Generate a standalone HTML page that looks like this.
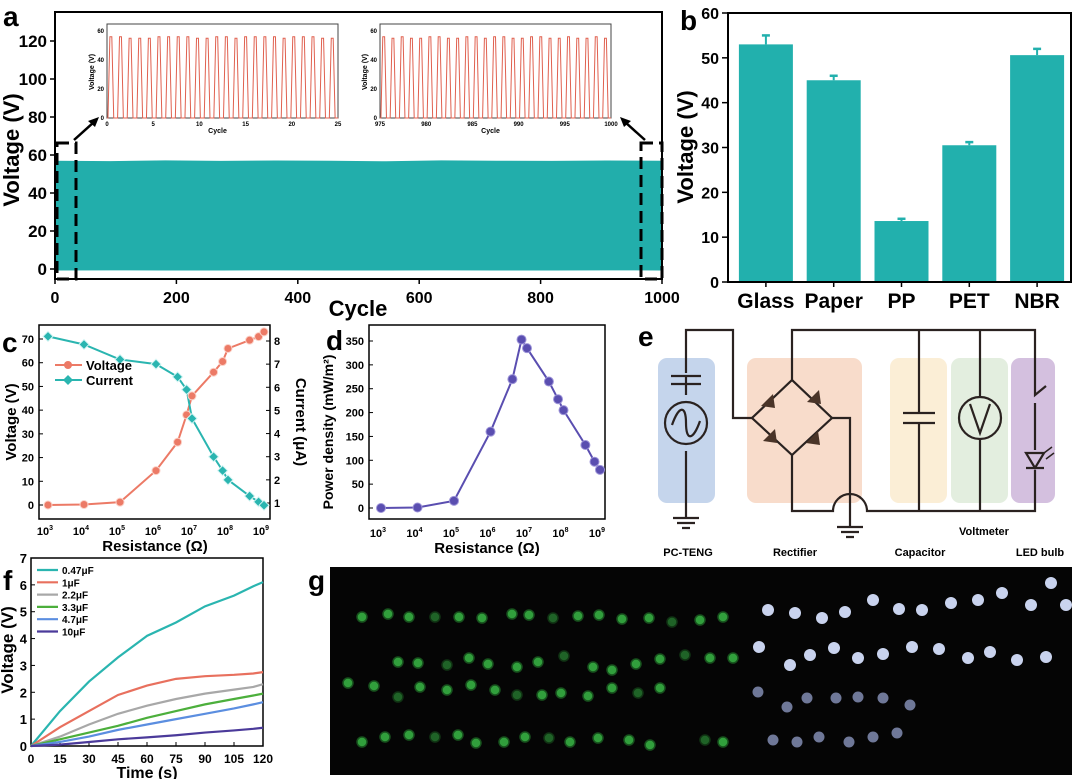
<!DOCTYPE html>
<html><head><meta charset="utf-8">
<style>
html,body{margin:0;padding:0;background:#fff;}
svg{display:block;font-family:"Liberation Sans",Arial,sans-serif;}
.t{font-weight:bold;fill:#000;}
</style></head>
<body>
<svg id="fig" width="1080" height="779" viewBox="0 0 1080 779" xmlns="http://www.w3.org/2000/svg"></svg>
<script>
// ===== Panel a data =====
const aTicksX=[0,200,400,600,800,1000];
const aTicksY=[0,20,40,60,80,100,120];
const aEnvTop=[57,56.8,57.2,56.9,57.1,57,56.7,57.2,57,56.9,57.1,57];
const aEnvBot=[-0.8,-0.7,-0.8,-0.8,-0.7,-0.8,-0.8,-0.7,-0.8,-0.8,-0.7,-0.8];
const inset1Peaks=[56,56,55,55,55,56,56,56,56,55,55,56,56,55,56,56,56,56,55,56,56,56,55,55];
const inset2Peaks=[56,55,56,55,55,56,56,55,55,56,56,55,56,56,55,55,56,56,55,55,56,55,55,56,55];
// ===== Panel b data =====
const bCats=["Glass","Paper","PP","PET","NBR"];
const bVals=[53,45,13.6,30.5,50.6];
const bErr=[2,1,0.5,0.7,1.4];
const bTicks=[0,10,20,30,40,50,60];
// ===== Panel c/d data =====
const rExp=[3,4,5,6,6.6,6.85,7,7.6,7.85,8,8.6,8.85,9];
const cVoltage=[0,0.2,1.2,14.5,26.5,38,46,56,60.5,66,69.5,71,73];
const cCurrent=[8.2,7.85,7.2,7.0,6.45,5.9,4.65,3.0,2.4,2.0,1.3,1.05,0.9];
const cTicksV=[0,10,20,30,40,50,60,70];
const cTicksI=[1,2,3,4,5,6,7,8];
const dPower=[0,1,15,160,270,353,335,265,228,205,132,97,80];
const dTicks=[0,50,100,150,200,250,300,350];
const rTicks=[3,4,5,6,7,8,9];
// ===== Panel f data =====
const fTime=[0,15,30,45,60,75,90,105,115,120];
const fNames=["0.47μF","1μF","2.2μF","3.3μF","4.7μF","10μF"];
const fColors=["#2ab5b0","#e8705e","#a8a8a8","#4caf3c","#5b8ee0","#4b3a9a"];
const f047=[0,1.3,2.4,3.3,4.1,4.6,5.2,5.6,5.95,6.1];
const f1=[0,0.7,1.3,1.9,2.25,2.5,2.6,2.65,2.7,2.75];
const f22=[0,0.35,0.8,1.2,1.5,1.75,1.95,2.1,2.2,2.3];
const f33=[0,0.25,0.5,0.75,1.05,1.3,1.55,1.75,1.88,1.95];
const f47=[0,0.15,0.35,0.6,0.8,1.0,1.2,1.4,1.55,1.63];
const f10=[0,0.05,0.15,0.25,0.32,0.4,0.5,0.58,0.64,0.68];
const fTicksX=[0,15,30,45,60,75,90,105,120];
const fTicksY=[0,1,2,3,4,5,6,7];

const NS="http://www.w3.org/2000/svg";
const svg=document.getElementById('fig');
function E(tag,attrs,parent,text){const e=document.createElementNS(NS,tag);for(const k in attrs)e.setAttribute(k,attrs[k]);if(text!==undefined)e.textContent=text;(parent||svg).appendChild(e);return e;}
function G(name){const g=E('g',{});return g;}
function lin(d0,d1,r0,r1){return v=>r0+(v-d0)*(r1-r0)/(d1-d0);}
function txt(g,x,y,s,size,anchor,name,extra){const t=E('text',Object.assign({x:x,y:y,'font-size':size,'text-anchor':anchor||'middle',class:'t'},extra||{}),g,s);return t;}
function label(s,x,y){txt(svg,x,y,s,28,'start','panel-label-'+s);}

// ---------- Panel a ----------
(function(){
 const g=G('panel-a');
 const X=lin(0,1000,55,662), Y=lin(0,120,269,41);
 let pts=[];
 aEnvTop.forEach((v,i)=>pts.push(X(i*1000/(aEnvTop.length-1))+','+Y(v)));
 for(let i=aEnvBot.length-1;i>=0;i--)pts.push(X(i*1000/(aEnvBot.length-1))+','+Y(aEnvBot[i]));
 const band=E('polygon',{points:pts.join(' '),fill:'#22aeab'},g);
 
 const ax=E('rect',{x:55,y:12,width:607,height:267,fill:'none',stroke:'#000','stroke-width':2},g);
 
 aTicksY.forEach(v=>{E('line',{x1:50,x2:55,y1:Y(v),y2:Y(v),stroke:'#000','stroke-width':1.5},g);txt(g,47,Y(v)+6,v,17,'end','y-tick-label');});
 aTicksX.forEach(v=>{E('line',{x1:X(v),x2:X(v),y1:279,y2:284,stroke:'#000','stroke-width':1.5},g);txt(g,X(v),303,v,16,'middle','x-tick-label');});
 txt(g,358,316,'Cycle',22,'middle','x-axis-title');
 txt(g,0,0,'Voltage (V)',22,'middle','y-axis-title',{transform:'translate(19,150) rotate(-90)'});
 E('rect',{x:57,y:143,width:19,height:136,fill:'none',stroke:'#000','stroke-width':3,'stroke-dasharray':'12,6'},g);
 E('rect',{x:641,y:143,width:21,height:136,fill:'none',stroke:'#000','stroke-width':3,'stroke-dasharray':'12,6'},g);
 E('line',{x1:74,y1:140,x2:94,y2:122,stroke:'#000','stroke-width':2.5},g);
 E('polygon',{points:'99,117 88,121 95,127',fill:'#000'},g);
 E('line',{x1:645,y1:140,x2:625,y2:122,stroke:'#000','stroke-width':2.5},g);
 E('polygon',{points:'620,117 631,121 624,127',fill:'#000'},g);
 function inset(x0,x1,peaks,d0,d1,ticks,name){
  const ig=G(name);
  const IX=lin(d0,d1,x0,x1), IY=lin(0,60,118,31);
  E('rect',{x:x0,y:24,width:x1-x0,height:94,fill:'#fff',stroke:'#444','stroke-width':1},ig);
  const per=(d1-d0)/peaks.length; let d='M'+x0+','+IY(0);
  peaks.forEach((p,i)=>{const c0=d0+i*per;
   d+=' L'+IX(c0+per*0.1)+','+IY(0)+' L'+IX(c0+per*0.3)+','+IY(p)+' L'+IX(c0+per*0.5)+','+IY(p)+' L'+IX(c0+per*0.7)+','+IY(0)+' L'+IX(c0+per)+','+IY(0);});
  const path=E('path',{d:d,fill:'none',stroke:'#e0604f','stroke-width':1},ig);
  
  [0,20,40,60].forEach(v=>txt(ig,x0-3,IY(v)+2,v,6,'end','inset-y-tick',{'font-weight':'normal'}));
  ticks.forEach(v=>txt(ig,IX(v),126,v,6,'middle','inset-x-tick',{'font-weight':'normal'}));
  txt(ig,(x0+x1)/2-5,133,'Cycle',7,'middle','inset-x-title');
  txt(ig,0,0,'Voltage (V)',7,'middle','inset-y-title',{transform:`translate(${x0-13},72) rotate(-90)`});
 }
 inset(107,338,inset1Peaks,0,25,[0,5,10,15,20,25],'inset-first-cycles');
 inset(380,611,inset2Peaks,975,1000,[975,980,985,990,995,1000],'inset-last-cycles');
})();
label('a',3,26);

// ---------- Panel b ----------
(function(){
 const g=G('panel-b');
 const Y=lin(0,60,282,13); const band=(1071-732)/bCats.length;
 bCats.forEach((c,i)=>{const cx=732+band*(i+0.5);
  const r=E('rect',{x:cx-27,y:Y(bVals[i]),width:54,height:282-Y(bVals[i]),fill:'#22b0ad'},g);
  
  E('line',{x1:cx,x2:cx,y1:Y(bVals[i]),y2:Y(bVals[i]+bErr[i]),stroke:'#22b0ad','stroke-width':2},g);
  E('line',{x1:cx-4,x2:cx+4,y1:Y(bVals[i]+bErr[i]),y2:Y(bVals[i]+bErr[i]),stroke:'#22b0ad','stroke-width':2.5},g);
  E('line',{x1:cx,x2:cx,y1:282,y2:287,stroke:'#000','stroke-width':1.5},g);
  txt(g,cx,308,c,21,'middle','x-category-label');});
 E('rect',{x:728,y:13,width:343,height:269,fill:'none',stroke:'#000','stroke-width':2},g);
 bTicks.forEach(v=>{E('line',{x1:722,x2:728,y1:Y(v),y2:Y(v),stroke:'#000','stroke-width':1.5},g);txt(g,719,Y(v)+6,v,16,'end','y-tick-label');});
 txt(g,0,0,'Voltage (V)',22,'middle','y-axis-title',{transform:'translate(693,147) rotate(-90)'});
})();
label('b',680,30);

// ---------- Panel c ----------
(function(){
 const g=G('panel-c');
 const X=lin(3,9,48,264), YV=lin(0,70,505,339), YI=lin(1,8,503,341);
 E('rect',{x:39,y:325,width:231,height:194,fill:'none',stroke:'#000','stroke-width':1.5},g);
 cTicksV.forEach(v=>{E('line',{x1:39,x2:43,y1:YV(v),y2:YV(v),stroke:'#000'},g);txt(g,34,YV(v)+4,v,11,'end','y-left-tick');});
 cTicksI.forEach(v=>{E('line',{x1:266,x2:270,y1:YI(v),y2:YI(v),stroke:'#000'},g);txt(g,274,YI(v)+4,v,11,'start','y-right-tick');});
 rTicks.forEach(v=>{const t=txt(g,X(v)-3,535,'10',11,'middle','x-tick-label');E('tspan',{dy:-5,'font-size':7},t,v);});
 txt(g,155,551,'Resistance (Ω)',15,'middle','x-axis-title');
 txt(g,0,0,'Voltage (V)',15,'middle','y-left-title',{transform:'translate(16,422) rotate(-90)'});
 txt(g,0,0,'Current (μA)',15,'middle','y-right-title',{transform:'translate(296,422) rotate(90)'});
 const lv=E('polyline',{points:rExp.map((r,i)=>X(r)+','+YV(cVoltage[i])).join(' '),fill:'none',stroke:'#ec7a66','stroke-width':2},g);
 
 const li=E('polyline',{points:rExp.map((r,i)=>X(r)+','+YI(cCurrent[i])).join(' '),fill:'none',stroke:'#2ab5b0','stroke-width':2},g);
 
 rExp.forEach((r,i)=>{const c=E('circle',{cx:X(r),cy:YV(cVoltage[i]),r:4,fill:'#ec7a66',stroke:'#fbd2c8','stroke-width':1},g);
  
  const x=X(r),y=YI(cCurrent[i]);const d=E('polygon',{points:`${x},${y-5} ${x+5},${y} ${x},${y+5} ${x-5},${y}`,fill:'#2ab5b0',stroke:'#d6f5f4','stroke-width':1},g);
  });
 const lg=G('legend-c');
 E('line',{x1:55,x2:82,y1:365,y2:365,stroke:'#ec7a66','stroke-width':2},lg);E('circle',{cx:68,cy:365,r:4,fill:'#ec7a66'},lg);
 txt(lg,86,370,'Voltage',13,'start','legend-entry',{'font-weight':'normal'});
 E('line',{x1:55,x2:82,y1:380,y2:380,stroke:'#2ab5b0','stroke-width':2},lg);E('polygon',{points:'68,375 73,380 68,385 63,380',fill:'#2ab5b0'},lg);
 txt(lg,86,385,'Current',13,'start','legend-entry',{'font-weight':'normal'});
})();
label('c',2,352);

// ---------- Panel d ----------
(function(){
 const g=G('panel-d');
 const X=lin(3,9,381,600), Y=lin(0,350,508,341);
 E('rect',{x:369,y:325,width:236,height:194,fill:'none',stroke:'#000','stroke-width':1.5},g);
 dTicks.forEach(v=>{E('line',{x1:369,x2:373,y1:Y(v),y2:Y(v),stroke:'#000'},g);txt(g,364,Y(v)+4,v,11,'end','y-tick-label');});
 rTicks.forEach(v=>{const t=txt(g,X(v)-3,537,'10',11,'middle','x-tick-label');E('tspan',{dy:-5,'font-size':7},t,v);});
 txt(g,487,553,'Resistance (Ω)',15,'middle','x-axis-title');
 txt(g,0,0,'Power density (mW/m²)',14,'middle','y-axis-title',{transform:'translate(333,432) rotate(-90)'});
 const l=E('polyline',{points:rExp.map((r,i)=>X(r)+','+Y(dPower[i])).join(' '),fill:'none',stroke:'#5a4eb0','stroke-width':2},g);
 
 rExp.forEach((r,i)=>{const c=E('circle',{cx:X(r),cy:Y(dPower[i]),r:4.5,fill:'#5a4eb0',stroke:'#9d94d8','stroke-width':1},g);
  });
})();
label('d',326,350);

// ---------- Panel e (circuit) ----------
(function(){
 const g=G('panel-e-circuit');
 const boxes=[[658,358,57,145,'#c5d5ec','teng-box'],[747,358,115,145,'#f8dccb','rectifier-box'],[890,358,57,145,'#fbeed6','capacitor-box'],[951,358,57,145,'#e3eedf','voltmeter-box'],[1011,358,44,145,'#d4c0df','led-box']];
 boxes.forEach(b=>{const r=E('rect',{x:b[0],y:b[1],width:b[2],height:b[3],rx:9,fill:b[4]},g);});
 const s={fill:'none',stroke:'#2a2220','stroke-width':2.2};
 E('path',Object.assign({d:'M686,373 L686,330 L733,330 L733,418 L752,418'},s),g);
 E('path',Object.assign({d:'M792,380 L792,330 L1035,330 L1035,380'},s),g);
 E('path',Object.assign({d:'M792,380 L752,418 L792,455 L832,418 Z'},s),g);
 E('path',Object.assign({d:'M832,418 L850,418 L850,527'},s),g);
 E('path',Object.assign({d:'M792,455 L792,511 L833,511 A17,17 0 0 1 867,511 L1035,511 L1035,470'},s),g);
 E('path',Object.assign({d:'M686,376 L686,386 M671,376 L701,376 M671,384 L701,384 M686,384 L686,395 M686,451 L686,518'},s),g);
 E('circle',Object.assign({cx:686,cy:423,r:21},s),g);
 E('path',Object.assign({d:'M672,425 C679,405 686,405 686,423 C686,441 693,441 700,421'},s),g);
 [[686,518],[850,527]].forEach(p=>E('path',Object.assign({d:`M${p[0]-13},${p[1]} L${p[0]+13},${p[1]} M${p[0]-9},${p[1]+5} L${p[0]+9},${p[1]+5} M${p[0]-4},${p[1]+10} L${p[0]+4},${p[1]+10}`},s),g));
 [[768,401],[814,397],[770,436],[813,438]].forEach(p=>E('polygon',{points:`${p[0]-7},${p[1]+5} ${p[0]+5},${p[1]-7} ${p[0]+7},${p[1]+7}`,fill:'#4a3428'},g));
 E('path',Object.assign({d:'M919,330 L919,413 M903,413 L935,413 M903,423 L935,423 M919,423 L919,511'},s),g);
 E('circle',Object.assign({cx:980,cy:418,r:21},s),g);
 E('path',Object.assign({d:'M980,330 L980,397 M980,439 L980,511 M970,404 L980,433 L990,404'},s),g);
 E('path',Object.assign({d:'M1035,380 L1035,395 L1046,386 M1035,403 L1035,450 M1026,453 L1044,453 L1035,468 Z M1026,468 L1044,468'},s),g);
 E('path',Object.assign({d:'M1044,453 L1052,447 M1046,459 L1054,453'},{stroke:'#2a2220','stroke-width':1.5}),g);
 txt(g,688,556,'PC-TENG',11,'middle','label-pc-teng');
 txt(g,795,556,'Rectifier',11,'middle','label-rectifier');
 txt(g,920,556,'Capacitor',11,'middle','label-capacitor');
 txt(g,984,535,'Voltmeter',11,'middle','label-voltmeter');
 txt(g,1040,556,'LED bulb',11,'middle','label-led-bulb');
})();
label('e',638,346);

// ---------- Panel f ----------
(function(){
 const g=G('panel-f');
 const X=lin(0,120,31,263), Y=lin(0,7,746,558);
 E('rect',{x:31,y:558,width:232,height:188,fill:'none',stroke:'#000','stroke-width':1.5},g);
 fTicksY.forEach(v=>{E('line',{x1:31,x2:35,y1:Y(v),y2:Y(v),stroke:'#000'},g);txt(g,27,Y(v)+5,v,13,'end','y-tick-label');});
 fTicksX.forEach(v=>{E('line',{x1:X(v),x2:X(v),y1:746,y2:742,stroke:'#000'},g);txt(g,X(v),763,v,12,'middle','x-tick-label');});
 txt(g,147,778,'Time (s)',16,'middle','x-axis-title');
 txt(g,0,0,'Voltage (V)',17,'middle','y-axis-title',{transform:'translate(13,650) rotate(-90)'});
 const series=[f047,f1,f22,f33,f47,f10];
 series.forEach((s,k)=>{const l=E('polyline',{points:fTime.map((t,i)=>X(t)+','+Y(s[i])).join(' '),fill:'none',stroke:fColors[k],'stroke-width':2.2},g);
  
  const ly=570+k*12.3;E('line',{x1:37,x2:58,y1:ly,y2:ly,stroke:fColors[k],'stroke-width':2.2},g);
  txt(g,62,ly+4,fNames[k],10,'start','legend-entry');});
})();
label('f',3,590);

// ---------- Panel g (photo) ----------
(function(){
 const g=G('panel-g-photo');
 E('rect',{x:330,y:567,width:742,height:208,fill:'#050505'},g);
 const green=[[362,617],[388,614],[409,617],[435,617],[459,617],[482,618],[512,614],[529,615],[553,618],[578,616],[599,615],[622,619],[649,618],[672,622],[700,620],[723,617],
  [398,662],[418,663],[447,665],[469,658],[488,664],[517,667],[538,662],[564,656],[593,667],[612,670],[636,664],[660,659],[685,655],[710,658],[733,658],
  [348,683],[374,686],[398,697],[420,687],[447,690],[471,685],[495,690],[517,695],[542,695],[561,693],[588,696],[612,688],[638,693],[660,688],
  [362,742],[385,737],[409,735],[435,737],[458,735],[476,743],[504,742],[525,737],[549,738],[570,742],[598,738],[629,740],[650,745],[705,740],[723,742]];
 green.forEach((p,i)=>{const c=E('circle',{cx:p[0],cy:p[1],r:5,fill:'#36b043',stroke:'#1a5a20','stroke-width':1.5,opacity:(i%5===3?0.55:0.9)},g);});
 const white=[[768,610],[795,613],[822,618],[845,612],[873,600],[899,609],[922,610],[951,603],[978,600],[1002,593],[1031,605],[1066,605],[1051,583],
  [759,647],[790,665],[810,655],[834,648],[858,658],[883,654],[912,647],[939,649],[968,658],[990,652],[1017,660],[1046,657]];
 white.forEach(p=>{const c=E('circle',{cx:p[0],cy:p[1],r:6,fill:'#c9d3ee'},g);});
 const dim=[[758,692],[787,707],[807,698],[836,698],[858,697],[883,698],[910,705],[773,740],[797,742],[819,737],[849,742],[873,737],[897,733]];
 dim.forEach(p=>{const c=E('circle',{cx:p[0],cy:p[1],r:5.5,fill:'#6f7898'},g);});
})();
label('g',308,590);
</script>
</body></html>
